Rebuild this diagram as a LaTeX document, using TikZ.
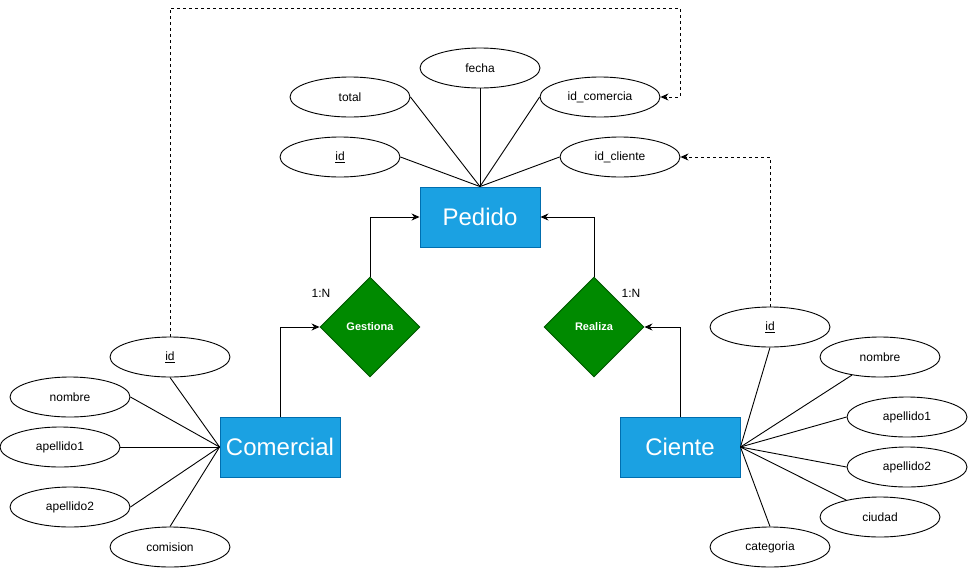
\documentclass[tikz,border=0pt]{standalone}
\usepackage{fontspec}
\setmainfont{Liberation Sans}
\usetikzlibrary{shapes.geometric,arrows.meta}
\definecolor{entfill}{HTML}{1BA1E2}
\definecolor{entdraw}{HTML}{006EAF}
\definecolor{relfill}{HTML}{008A00}
\definecolor{reldraw}{HTML}{005700}
\tikzset{
  entity/.style={rectangle,draw=entdraw,fill=entfill,line width=0.9pt,minimum width=120pt,minimum height=60pt,inner sep=0pt,text=white,font=\fontsize{24}{28}\selectfont},
  attr/.style={ellipse,draw=black,fill=white,line width=0.9pt,minimum width=120pt,minimum height=40pt,inner sep=0pt,font=\fontsize{12}{14}\selectfont},
  rel/.style={diamond,draw=reldraw,fill=relfill,line width=0.9pt,minimum width=100pt,minimum height=100pt,inner sep=0pt,aspect=1,text=white,font=\bfseries\fontsize{11}{13}\selectfont},
  link/.style={draw=black,line width=0.9pt},
  arr/.style={draw=black,line width=0.9pt,-{Stealth[length=8pt,width=7pt]}},
  darr/.style={draw=black,line width=0.9pt,dashed,dash pattern=on 3pt off 3pt,-{Stealth[length=8pt,width=7pt]}},
  card/.style={font=\fontsize{12}{14}\selectfont,inner sep=0pt}
}
\begin{document}
\begin{tikzpicture}[x=1pt,y=-1pt]
\useasboundingbox (0,0) rectangle (968,568);
% entities
\node[entity] (ped) at (480,217) {Pedido};
\node[entity] (com) at (280,447) {Comercial};
\node[entity] (cli) at (680,447) {Ciente};
% relations
\node[rel] (ges) at (370,327) {Gestiona};
\node[rel] (rea) at (594,327) {Realiza};
% Pedido attributes
\node[attr] (pfecha) at (480,68) {fecha};
\node[attr] (ptotal) at (350,97) {total};
\node[attr] (pidc) at (600,97) {id\_comercia};
\node[attr] (pid) at (340,157) {\underline{id}};
\node[attr] (pidcl) at (620,157) {id\_cliente};
% Comercial attributes
\node[attr] (cid) at (170,357) {\underline{id}};
\node[attr] (cnom) at (70,397) {nombre};
\node[attr] (cap1) at (60,447) {apellido1};
\node[attr] (cap2) at (70,507) {apellido2};
\node[attr] (ccom) at (170,547) {comision};
% Cliente attributes
\node[attr] (lid) at (770,327) {\underline{id}};
\node[attr] (lnom) at (880,357) {nombre};
\node[attr] (lap1) at (907,417) {apellido1};
\node[attr] (lap2) at (907,467) {apellido2};
\node[attr] (lciu) at (880,517) {ciudad};
\node[attr] (lcat) at (770,547) {categoria};
% Pedido links
\draw[link] (ped.north) -- (pfecha.south);
\draw[link] (ped.north) -- (ptotal.east);
\draw[link] (ped.north) -- (pidc.west);
\draw[link] (ped.north) -- (pid.east);
\draw[link] (ped.north) -- (pidcl.west);
% Comercial links
\draw[link] (com.west) -- (cid.south);
\draw[link] (com.west) -- (cnom.east);
\draw[link] (com.west) -- (cap1.east);
\draw[link] (com.west) -- (cap2.east);
\draw[link] (com.west) -- (ccom.north);
% Cliente links
\draw[link] (cli.east) -- (lid.south);
\draw[link] (cli.east) -- (lnom);
\draw[link] (cli.east) -- (lap1.west);
\draw[link] (cli.east) -- (lap2.west);
\draw[link] (cli.east) -- (lciu);
\draw[link] (cli.east) -- (lcat.north);
% relationship arrows
\draw[arr] (com.north) |- (ges.west);
\draw[arr] (ges.north) |- (ped.west);
\draw[arr] (cli.north) |- (rea.east);
\draw[arr] (rea.north) |- (ped.east);
% cardinalities
\node[card] (c1) at (321,293) {1:N};
\node[card] (c2) at (631,293) {1:N};
% dashed foreign key arrows
\coordinate (k1) at (170,8);
\coordinate (k2) at (680,8);
\coordinate (k3) at (680,97);
\draw[darr] (cid.north) -- (k1) -- (k2) -- (k3) -- (pidc.east);
\draw[darr] (lid.north) |- (pidcl.east);
\end{tikzpicture}
\end{document}
